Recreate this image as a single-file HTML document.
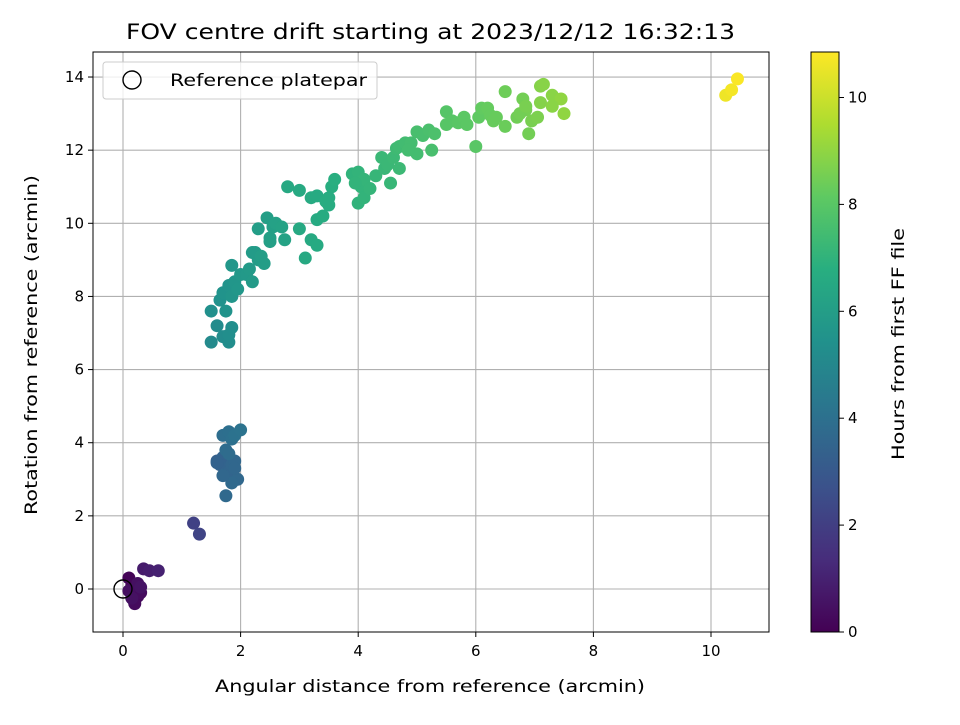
<!DOCTYPE html>
<html><head><meta charset="utf-8"><style>
body{margin:0;background:#fff;font-family:"Liberation Sans","DejaVu Sans",sans-serif}
svg text{font-family:"DejaVu Sans","Liberation Sans",sans-serif}
</style></head><body>
<svg id="c" width="960" height="720" xmlns="http://www.w3.org/2000/svg">
<defs><linearGradient id="vg" x1="0" y1="1" x2="0" y2="0">
<stop offset="0" stop-color="#440154"/><stop offset="0.125" stop-color="#472d7b"/><stop offset="0.25" stop-color="#3b528b"/><stop offset="0.375" stop-color="#2c728e"/><stop offset="0.5" stop-color="#21918c"/><stop offset="0.625" stop-color="#28ae80"/><stop offset="0.75" stop-color="#5ec962"/><stop offset="0.875" stop-color="#addc30"/><stop offset="1" stop-color="#fde725"/></linearGradient></defs>
<rect width="960" height="720" fill="#fff"/>
<text x="126" y="39" font-size="21" textLength="609" lengthAdjust="spacingAndGlyphs">FOV centre drift starting at 2023/12/12 16:32:13</text>
<g id="grid"></g><g id="pts"></g>
<rect x="93" y="52" width="676" height="580" fill="none" stroke="#000" stroke-width="1"/>
<g id="axes"></g>
<text x="215" y="692" font-size="17" textLength="430" lengthAdjust="spacingAndGlyphs">Angular distance from reference (arcmin)</text>
<text transform="translate(37,515) rotate(-90)" font-size="17" textLength="340" lengthAdjust="spacingAndGlyphs">Rotation from reference (arcmin)</text>
<g>
<rect x="103" y="62" width="274" height="37" rx="3" fill="#fff" fill-opacity="0.8" stroke="#ccc"/>
<circle cx="132" cy="80" r="9" fill="none" stroke="#000" stroke-width="1.4"/>
<text x="170" y="86" font-size="17" textLength="197" lengthAdjust="spacingAndGlyphs">Reference platepar</text></g>
<rect x="811" y="52" width="28" height="580" fill="url(#vg)" stroke="#000" stroke-width="1"/>
<g id="cbax"></g>
<text transform="translate(904,460) rotate(-90)" font-size="17" textLength="232" lengthAdjust="spacingAndGlyphs">Hours from first FF file</text>
</svg>
<script>
const xTicks=[0,2,4,6,8,10];
const yTicks=[0,2,4,6,8,10,12,14];
const cbTicks=[0,2,4,6,8,10];
const xs=[0.1,0.15,0.2,0.25,0.2,0.3,0.1,0.25,0.15,0.3,0.35,0.45,0.6,1.2,1.3,
1.6,1.65,1.7,1.75,1.8,1.85,1.9,1.95,1.85,1.75,1.7,1.8,1.85,1.9,2.0,1.75,1.8,1.7,1.6,1.9,
1.5,1.6,1.7,1.8,1.85,1.8,1.5,1.65,1.7,1.75,1.8,1.85,1.9,1.85,1.95,2.0,2.1,2.2,2.15,2.25,2.3,2.2,2.3,2.45,2.5,2.55,2.6,2.7,2.5,2.75,2.4,2.35,
2.8,3.0,3.2,3.3,3.5,3.55,3.6,3.45,3.3,3.4,3.0,3.2,3.3,3.1,3.5,
3.9,4.0,4.05,4.1,4.0,4.1,4.2,3.95,4.3,4.45,4.4,4.5,4.55,4.6,4.65,4.7,4.8,4.9,5.0,4.7,5.0,5.1,5.2,5.3,5.25,4.85,
5.5,5.6,5.5,5.7,5.8,5.85,6.0,6.05,6.1,6.2,6.25,6.3,6.35,6.5,6.5,6.7,6.8,6.85,6.9,6.95,7.05,6.75,6.85,7.1,7.15,7.1,7.3,7.45,7.5,7.3,
10.25,10.35,10.45];
const ys=[0.3,0.1,0,-0.2,-0.4,-0.1,-0.05,0.15,-0.25,0.05,0.55,0.5,0.5,1.8,1.5,
3.5,3.4,3.6,3.3,3.2,3.4,3.5,3.0,2.9,2.55,4.2,4.3,4.1,4.2,4.35,3.8,3.7,3.1,3.45,3.3,
6.75,7.2,6.9,6.75,7.15,6.95,7.6,7.9,8.1,7.6,8.3,8.0,8.4,8.85,8.2,8.6,8.6,8.4,8.75,9.2,9.0,9.2,9.85,10.15,9.6,9.9,10.0,9.9,9.5,9.55,8.9,9.1,
11.0,10.9,10.7,10.75,10.5,11.0,11.2,10.6,10.1,10.2,9.85,9.55,9.4,9.05,10.7,
11.35,11.4,11.0,11.2,10.55,10.7,10.95,11.1,11.3,11.5,11.8,11.6,11.1,11.8,12.05,12.1,12.2,12.2,11.9,11.5,12.5,12.4,12.55,12.45,12.0,12.0,
13.05,12.8,12.7,12.75,12.9,12.7,12.1,12.9,13.15,13.15,12.95,12.8,12.9,13.6,12.65,12.9,13.4,13.1,12.45,12.8,12.9,13.0,13.2,13.75,13.8,13.3,13.5,13.4,13.0,13.2,
13.5,13.65,13.95];
const hrs=[0.1,0.15,0.2,0.25,0.3,0.35,0.4,0.45,0.5,0.55,0.8,0.9,1.0,2.1,2.2,
3.3,3.35,3.4,3.45,3.5,3.55,3.6,3.65,3.7,3.7,3.9,3.95,4.0,4.05,4.1,3.8,3.8,3.6,3.4,3.6,
5.1,5.15,5.2,5.25,5.3,5.3,5.4,5.45,5.5,5.5,5.55,5.6,5.65,5.7,5.7,5.75,5.8,5.85,5.85,5.9,5.95,5.9,6.0,6.05,6.1,6.1,6.15,6.2,6.1,6.2,6.0,6.0,
6.5,6.55,6.6,6.6,6.7,6.75,6.8,6.7,6.6,6.65,6.5,6.55,6.6,6.5,6.7,
7.0,7.05,7.05,7.1,7.0,7.05,7.1,7.05,7.15,7.2,7.25,7.25,7.2,7.3,7.35,7.4,7.45,7.5,7.5,7.3,7.6,7.6,7.65,7.7,7.6,7.5,
7.9,7.95,7.95,8.0,8.05,8.05,8.0,8.15,8.2,8.25,8.25,8.3,8.3,8.4,8.35,8.45,8.5,8.55,8.5,8.6,8.65,8.5,8.6,8.8,8.85,8.8,8.9,9.0,9.0,8.9,
10.6,10.7,10.8];
const X=v=>123+v*58.8, Y=v=>589-v*36.57, CB=v=>632-v*53.45;
const vir=[[68,1,84],[71,45,123],[59,82,139],[44,114,142],[33,145,140],[40,174,128],[94,201,98],[173,220,48],[253,231,37]];
function col(h){let t=Math.max(0,Math.min(1,h/10.85))*8,i=Math.min(7,Math.floor(t)),f=t-i,a=vir[i],b=vir[i+1];
return 'rgb('+a.map((v,k)=>Math.round(v+(b[k]-v)*f)).join(',')+')';}
const NS='http://www.w3.org/2000/svg';
function mk(tag,at,par,txt){const e=document.createElementNS(NS,tag);for(const k in at)e.setAttribute(k,at[k]);if(txt!==undefined)e.textContent=txt;document.getElementById(par).appendChild(e);return e;}
xTicks.forEach(t=>{const x=X(t);
const g=mk('line',{x1:x,x2:x,y1:52,y2:632,stroke:'#b0b0b0','stroke-width':1.1},'grid');


const k=mk('line',{x1:x,x2:x,y1:632,y2:637,stroke:'#000'},'axes');


const l=mk('text',{x:x,y:656,'text-anchor':'middle','font-size':15},'axes',String(t));

});
yTicks.forEach(t=>{const y=Y(t);
const g=mk('line',{x1:93,x2:769,y1:y,y2:y,stroke:'#b0b0b0','stroke-width':1.1},'grid');


const k=mk('line',{x1:88,x2:93,y1:y,y2:y,stroke:'#000'},'axes');


const l=mk('text',{x:84,y:y+5,'text-anchor':'end','font-size':15},'axes',String(t));

});
cbTicks.forEach(t=>{const y=CB(t);
const k=mk('line',{x1:839,x2:844,y1:y,y2:y,stroke:'#000'},'cbax');


const l=mk('text',{x:848,y:y+5,'font-size':15},'cbax',String(t));

});
xs.forEach((v,i)=>{const c=mk('circle',{cx:X(v),cy:Y(ys[i]),r:6.5,fill:col(hrs[i])},'pts');

});
const r=mk('circle',{cx:X(0),cy:Y(0),r:9,fill:'none',stroke:'#000','stroke-width':1.4},'pts');


</script>
</body></html>
